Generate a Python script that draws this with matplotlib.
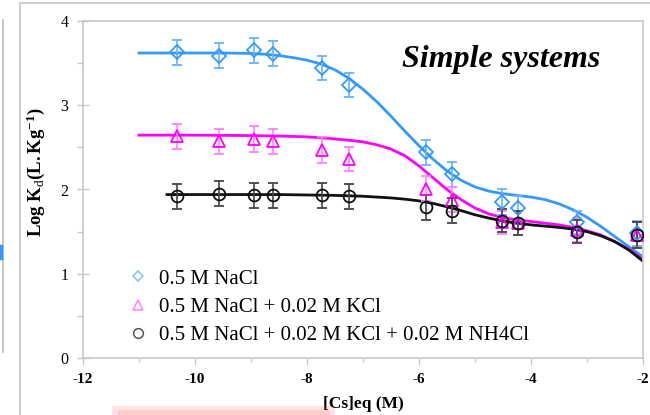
import matplotlib
matplotlib.use("Agg")
import matplotlib.pyplot as plt
from matplotlib.lines import Line2D
from matplotlib.patches import Rectangle

# ---------------- data ----------------
x_pts = [-10.32, -9.57, -8.94, -8.61, -7.74, -7.245, -5.875, -5.405, -4.52, -4.24, -3.17, -2.11]
y_nacl = [3.63, 3.59, 3.65, 3.61, 3.44, 3.24, 2.44, 2.18, 1.85, 1.78, 1.61, 1.48]
y_kcl = [2.63, 2.57, 2.60, 2.57, 2.47, 2.36, 2.01, 1.88, 1.61, 1.60, 1.52, 1.46]
y_nh4 = [1.92, 1.95, 1.93, 1.93, 1.93, 1.92, 1.79, 1.75, 1.63, 1.60, 1.50, 1.46]
err_nacl = [0.15, 0.15, 0.15, 0.15, 0.14, 0.14, 0.15, 0.15, 0.15, 0.14, 0.14, 0.15]
err_kcl = [0.15, 0.15, 0.15, 0.15, 0.15, 0.14, 0.15, 0.15, 0.14, 0.14, 0.14, 0.15]
err_nh4 = [0.15, 0.15, 0.15, 0.15, 0.15, 0.15, 0.15, 0.15, 0.14, 0.14, 0.14, 0.15]

# fitted curves
fit_x_nacl = [-11, -10.5, -10, -9.5, -9, -8.75, -8.5, -8.25, -8, -7.75, -7.5, -7.25, -7, -6.75,
              -6.5, -6.25, -6, -5.75, -5.5, -5.25, -5, -4.75, -4.5, -4.25, -4, -3.75, -3.5,
              -3.25, -3, -2.75, -2.5, -2.25, -2]
fit_y_nacl = [3.62, 3.62, 3.62, 3.62, 3.615, 3.605, 3.59, 3.565, 3.535, 3.49, 3.42, 3.32, 3.19, 3.04,
              2.87, 2.69, 2.52, 2.36, 2.22, 2.11, 2.03, 1.98, 1.95, 1.93, 1.91, 1.88, 1.83,
              1.76, 1.67, 1.56, 1.44, 1.32, 1.20]
fit_x_kcl = [-11, -10, -9, -8.5, -8, -7.75, -7.5, -7.25, -7, -6.75, -6.5, -6.25, -6, -5.75,
             -5.5, -5.25, -5, -4.75, -4.5, -4.25, -4, -3.75, -3.5, -3.25, -3, -2.75, -2.5, -2.25, -2]
fit_y_kcl = [2.645, 2.645, 2.64, 2.635, 2.625, 2.615, 2.60, 2.585, 2.565, 2.53, 2.48, 2.40, 2.28, 2.14,
             2.00, 1.88, 1.78, 1.71, 1.665, 1.64, 1.62, 1.60, 1.58, 1.55, 1.51, 1.46, 1.38, 1.29, 1.17]
fit_x_nh4 = [-10.5, -9.5, -8.5, -8, -7.5, -7, -6.75, -6.5, -6.25, -6, -5.75, -5.5, -5.25, -5,
             -4.75, -4.5, -4.25, -4, -3.75, -3.5, -3.25, -3, -2.75, -2.5, -2.25, -2]
fit_y_nh4 = [1.94, 1.94, 1.94, 1.935, 1.93, 1.92, 1.91, 1.90, 1.885, 1.865, 1.835, 1.795, 1.75, 1.70,
             1.66, 1.625, 1.60, 1.58, 1.565, 1.55, 1.53, 1.50, 1.45, 1.38, 1.28, 1.15]

labels = ["0.5 M NaCl", "0.5 M NaCl + 0.02 M KCl", "0.5 M NaCl + 0.02 M KCl + 0.02 M NH4Cl"]
x_ticks = [-12, -10, -8, -6, -4, -2]
y_ticks = [0, 1, 2, 3, 4]

# ---------------- style ----------------
serif = "Liberation Serif"
plt.rcParams["font.family"] = [serif, "DejaVu Serif"]
plt.rcParams["mathtext.fontset"] = "custom"
plt.rcParams["mathtext.rm"] = serif
plt.rcParams["mathtext.bf"] = serif + ":bold"
plt.rcParams["mathtext.it"] = serif + ":italic"

blue, blue_e = "#3399ff", "#66b3ff"
mag, mag_e = "#ff00ff", "#ff80ff"
blk, blk_e = "#111111", "#444444"
spine_c = "#c8c8c8"

fig = plt.figure(figsize=(6.5, 4.15), dpi=100)
ax = fig.add_axes([83 / 650, 1 - 358 / 415, (643 - 83) / 650, (358 - 21) / 415])

# curves
ax.plot(fit_x_nacl, fit_y_nacl, color=blue, lw=2.0, zorder=2, solid_joinstyle="round")
ax.plot(fit_x_kcl, fit_y_kcl, color=mag, lw=2.0, zorder=2, solid_joinstyle="round")
ax.plot(fit_x_nh4, fit_y_nh4, color=blk, lw=2.0, zorder=2, solid_joinstyle="round")

# points with error bars
common = dict(ls="none", capsize=3.5, elinewidth=1.2, capthick=1.2, mew=1.3, zorder=3)
ax.errorbar(x_pts, y_nacl, yerr=err_nacl, fmt="D", ms=7, mfc="none", mec=blue, ecolor=blue_e, **common)
ax.errorbar(x_pts, y_kcl, yerr=err_kcl, fmt="^", ms=8.5, mfc="none", mec=mag, ecolor=mag_e, **common)
ax.errorbar(x_pts, y_nh4, yerr=err_nh4, fmt="o", ms=8.5, mfc="none", mec=blk, ecolor=blk_e, **common)

ax.set_xlim(-12, -2)
ax.set_ylim(0, 4)
ax.set_xticks(x_ticks)
ax.set_xticklabels([str(v) for v in x_ticks], fontweight="bold", fontsize=11)
ax.set_xticks([-11, -9, -7, -5, -3], minor=True)
ax.set_yticks(y_ticks)
ax.set_yticklabels([str(v) for v in y_ticks], fontsize=11.5)
ax.set_yticks([0.5, 1.5, 2.5, 3.5], minor=True)

for s in ax.spines.values():
    s.set_color(spine_c)
    s.set_linewidth(1.2)
ax.tick_params(axis="y", which="major", direction="inout", length=9, color=spine_c, width=1.0, pad=6)
ax.tick_params(axis="y", which="minor", direction="out", length=4, color=spine_c, width=1.0)
ax.tick_params(axis="x", which="major", direction="out", length=5, color=spine_c, width=1.0, pad=6)
ax.tick_params(axis="x", which="minor", direction="out", length=3, color=spine_c, width=1.0)

ax.set_xlabel("[Cs]eq (M)", fontweight="bold", fontsize=12.5)
ax.xaxis.set_label_coords(0.5, -0.112)
ax.set_ylabel(r"$\mathbf{Log\ K}_{\mathrm{d}}\mathbf{(L.Kg^{-1})}$", fontsize=13.5)
ax.yaxis.set_label_coords(-0.064, 0.55)

ax.text(0.746, 0.885, "Simple systems", transform=ax.transAxes, ha="center", va="center",
        fontsize=23, fontweight="bold", fontstyle="italic")

handles = [
    Line2D([], [], ls="none", marker="D", ms=5.5, mfc="none", mec="#80bfff", mew=1.1),
    Line2D([], [], ls="none", marker="^", ms=7, mfc="none", mec="#ff80ff", mew=1.1),
    Line2D([], [], ls="none", marker="o", ms=7, mfc="none", mec="#555555", mew=1.1),
]
ax.legend(handles, labels, loc="upper left", bbox_to_anchor=(0.065, 0.295), frameon=False,
          fontsize=15, handlelength=0.8, handletextpad=0.6, labelspacing=0.42, borderpad=0)

# screenshot frame decorations
W, H = 650, 415
def fline(x0, y0, x1, y1, c="#d0d0d0", lw=1.5):
    fig.add_artist(Line2D([x0 / W, x1 / W], [1 - y0 / H, 1 - y1 / H], color=c, lw=lw,
                          transform=fig.transFigure))
fline(20, 3, 650, 3)
fline(20, 3, 20, 415)
fline(3, 20, 3, 352, c="#bbbbbb", lw=1.2)
fline(0.6, 246, 0.6, 258, c="#3399ff", lw=2.5)
fig.add_artist(Rectangle((112 / W, 0), (335 - 112) / W, 9 / H, transform=fig.transFigure,
                         facecolor="#ff6666", alpha=0.18, edgecolor="none"))
fig.add_artist(Rectangle((118 / W, 0), (330 - 118) / W, 5 / H, transform=fig.transFigure,
                         facecolor="#ff9999", alpha=0.3, edgecolor="none"))

fig.savefig("out.png", dpi=100)
